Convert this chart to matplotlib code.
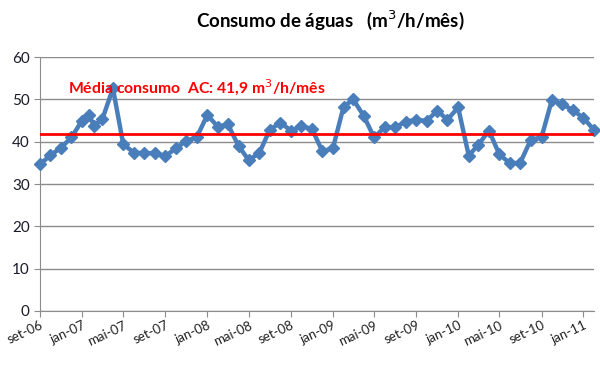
import matplotlib
matplotlib.use('Agg')
import matplotlib.pyplot as plt
import numpy as np
import pandas as pd

plt.rcParams['font.family'] = ['Lato', 'DejaVu Sans']

# leituras mensais (m3/h/mes); fev-07 tem duas leituras
datas = ['2006-09-01', '2006-10-01', '2006-11-01', '2006-12-01',
         '2007-01-01', '2007-01-20', '2007-02-05', '2007-03-01', '2007-04-01',
         '2007-05-01', '2007-06-01', '2007-07-01', '2007-08-01', '2007-09-01',
         '2007-10-01', '2007-11-01', '2007-12-01', '2008-01-01', '2008-02-01',
         '2008-03-01', '2008-04-01', '2008-05-01', '2008-06-01', '2008-07-01',
         '2008-08-01', '2008-09-01', '2008-10-01', '2008-11-01', '2008-12-01',
         '2009-01-01', '2009-02-01', '2009-03-01', '2009-04-01', '2009-05-01',
         '2009-06-01', '2009-07-01', '2009-08-01', '2009-09-01', '2009-10-01',
         '2009-11-01', '2009-12-01', '2010-01-01', '2010-02-01', '2010-03-01',
         '2010-04-01', '2010-05-01', '2010-06-01', '2010-07-01', '2010-08-01',
         '2010-09-01', '2010-10-01', '2010-11-01', '2010-12-01', '2011-01-01',
         '2011-02-01']
consumo = [34.7, 36.8, 38.6, 41.0,
           45.0, 46.4, 43.8, 45.3, 52.6,
           39.4, 37.4, 37.3, 37.3, 36.6,
           38.4, 40.2, 41.0, 46.3, 43.5,
           44.1, 39.0, 35.6, 37.4, 42.8,
           44.5, 42.6, 43.7, 43.0, 37.8,
           38.4, 48.2, 50.0, 46.1, 41.0,
           43.4, 43.4, 44.7, 45.2, 44.9,
           47.3, 45.2, 48.1, 36.7, 39.3,
           42.6, 37.0, 34.9, 35.0, 40.5,
           41.0, 49.8, 48.8, 47.5, 45.6,
           42.8]
media = 41.9

tick_datas = ['2006-09-01', '2007-01-01', '2007-05-01', '2007-09-01', '2008-01-01',
              '2008-05-01', '2008-09-01', '2009-01-01', '2009-05-01', '2009-09-01',
              '2010-01-01', '2010-05-01', '2010-09-01', '2011-01-01']
tick_labels = ['set-06', 'jan-07', 'mai-07', 'set-07', 'jan-08', 'mai-08', 'set-08',
               'jan-09', 'mai-09', 'set-09', 'jan-10', 'mai-10', 'set-10', 'jan-11']

x = pd.to_datetime(datas)

fig = plt.figure(figsize=(6, 3.68), dpi=100)
ax = fig.add_axes([0.067, 0.155, 0.923, 0.69])

ax.plot(x, consumo, color='#4A7EBB', lw=3.2, marker='D', markersize=6,
        markeredgecolor='#4A7EBB', clip_on=False, zorder=3)
ax.axhline(media, color='#FF0000', lw=2, zorder=4)

ax.set_ylim(0, 60)
ax.set_yticks(range(0, 61, 10))
ax.set_xlim(pd.Timestamp('2006-09-01'), pd.Timestamp('2011-02-01'))
ax.set_xticks(pd.to_datetime(tick_datas))
ax.set_xticklabels(tick_labels, rotation=25, ha='right', rotation_mode='anchor')
ax.grid(axis='y', color='#8C8C8C', lw=1)
ax.set_axisbelow(True)

for s in ['top', 'right']:
    ax.spines[s].set_visible(False)
for s in ['left', 'bottom']:
    ax.spines[s].set_color('#8C8C8C')
ax.tick_params(axis='x', length=4, color='#8C8C8C', labelsize=9.5, labelcolor='#222222', pad=2)
ax.tick_params(axis='y', length=4, color='#8C8C8C', labelsize=11, labelcolor='#1a1a2a', direction='out')

ax.text(pd.Timestamp('2006-11-20'), 51.3, 'Média consumo  AC: 41,9 m$^3$/h/mês',
        color='#FF0000', fontsize=11.3, fontweight='bold')
fig.text(0.55, 0.945, 'Consumo de águas   (m$^3$/h/mês)', ha='center', va='center',
         fontsize=13.5, fontweight='bold')

fig.savefig('out.png', dpi=100)
